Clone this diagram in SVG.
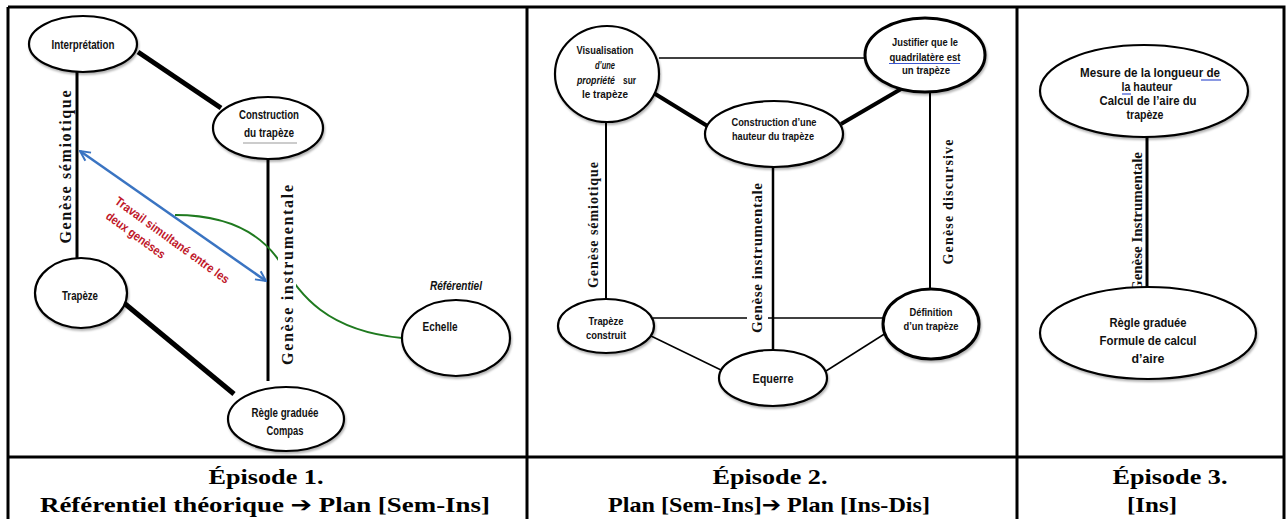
<svg xmlns="http://www.w3.org/2000/svg" width="1288" height="519" viewBox="0 0 1288 519">
<style>
.bg{fill:#fff}
.frame{stroke:#000;stroke-width:3;fill:none}
.node{fill:#fff;stroke:#000;stroke-width:2.2;filter:url(#sh)}
.node.thick{stroke-width:3}
.t{font-family:"Liberation Sans",Arial,sans-serif;font-weight:bold;fill:#111;text-anchor:middle}
.s{text-anchor:start}
.t10{font-size:10.5px}
.t11{font-size:11px}
.t12{font-size:12px}
.t13{font-size:13px}
.it{font-style:italic}
.gen{font-family:"Liberation Serif","Times New Roman",serif;font-weight:bold;fill:#111;text-anchor:middle;dominant-baseline:central}
.ln{stroke:#000;fill:none}
.w15{stroke-width:1.5}
.w2{stroke-width:2}
.w3{stroke-width:3}
.w5{stroke-width:5}
.blue{stroke:#3a74c2;stroke-width:2.5;fill:none}
.green{stroke:#1f7a1f;stroke-width:2;fill:none}
.red{font-family:"Liberation Sans",Arial,sans-serif;font-weight:bold;font-size:12.5px;fill:#c0182a}
.foot{font-family:"Liberation Serif","Times New Roman",serif;font-weight:bold;font-size:22px;fill:#000;text-anchor:middle}
.arr{font-family:"DejaVu Sans",sans-serif;font-size:21px}
.ul{stroke:#3b55d0;stroke-width:1.2}
</style>
<defs>
<filter id="sh" x="-20%" y="-20%" width="140%" height="150%">
<feDropShadow dx="1" dy="2" stdDeviation="1.3" flood-color="#000" flood-opacity="0.3"/>
</filter>
<marker id="ah" viewBox="0 0 10 10" refX="9" refY="5" markerWidth="5" markerHeight="5" orient="auto-start-reverse" markerUnits="strokeWidth">
<path d="M1,1 L9,5 L1,9" fill="none" stroke="#3a74c2" stroke-width="1.6"/>
</marker>
</defs>
<rect class="bg" x="0" y="0" width="1288" height="519"/>

<g id="frame">
<path class="frame" d="M8,7 H1284 V519 M8,7 V519 M527,7 V519 M1017,7 V519 M8,457 H1284"/>
</g>

<g id="connectors">
<line class="ln w5" x1="138" y1="52" x2="221" y2="108"/>
<line class="ln w3" x1="77" y1="72" x2="77" y2="259"/>
<line class="ln w3" x1="268" y1="158" x2="268" y2="381"/>
<line class="ln w5" x1="118" y1="298" x2="234" y2="394"/>
<line class="blue" x1="80" y1="151" x2="266" y2="281" marker-start="url(#ah)" marker-end="url(#ah)"/>
<path class="green" d="M175,215 C230,215 262,235 280,262 S320,330 402,338"/>
<line class="ln w15" x1="659" y1="58" x2="866" y2="58"/>
<line class="ln" stroke-width="4" x1="652" y1="92" x2="709" y2="127"/>
<line class="ln" stroke-width="4" x1="841" y1="124" x2="901" y2="89"/>
<line class="ln w2" x1="606" y1="122" x2="606" y2="300"/>
<line class="ln" stroke-width="2.5" x1="773" y1="167" x2="773" y2="351"/>
<line class="ln w2" x1="930" y1="92" x2="930" y2="290"/>
<line class="ln w15" x1="653" y1="318" x2="884" y2="318"/>
<line class="ln w15" x1="651" y1="336" x2="721" y2="370"/>
<line class="ln w15" x1="826" y1="371" x2="886" y2="333"/>
<line class="ln w3" x1="1147" y1="136" x2="1147" y2="288"/>
</g>

<g id="labels">
<text class="gen" font-size="16" transform="translate(65,167) rotate(-90)" textLength="153" lengthAdjust="spacing">Genèse sémiotique</text>
<rect class="bg" x="278" y="182" width="18" height="186"/>
<text class="gen" font-size="16" transform="translate(287,275) rotate(-90)" textLength="180" lengthAdjust="spacing">Genèse instrumentale</text>
<text class="red" transform="translate(114,203) rotate(36)" textLength="138" lengthAdjust="spacingAndGlyphs">Travail simultané entre les</text>
<text class="red" transform="translate(105,218) rotate(36)" textLength="70" lengthAdjust="spacingAndGlyphs">deux genèses</text>
<text class="gen" font-size="14" transform="translate(593,225) rotate(-90)" textLength="126" lengthAdjust="spacing">Genèse sémiotique</text>
<rect class="bg" x="747" y="180" width="21" height="156"/>
<text class="gen" font-size="15" transform="translate(757,258) rotate(-90)" textLength="150" lengthAdjust="spacing">Genèse instrumentale</text>
<text class="gen" font-size="14" transform="translate(948,202) rotate(-90)" textLength="125" lengthAdjust="spacing">Genèse discursive</text>
<text class="gen" font-size="15" transform="translate(1137,222) rotate(-90)" textLength="140" lengthAdjust="spacing">Genèse Instrumentale</text>
</g>

<g id="n-interpretation">
<ellipse class="node" cx="83" cy="44" rx="54" ry="28"/>
<text class="t t12" x="83" y="49" textLength="63" lengthAdjust="spacingAndGlyphs">Interprétation</text>
</g>
<g id="n-construction">
<ellipse class="node" cx="268" cy="128" rx="55" ry="31"/>
<text class="t t12" x="269" y="119" textLength="60" lengthAdjust="spacingAndGlyphs">Construction</text>
<text class="t t12" x="269" y="137" textLength="50" lengthAdjust="spacingAndGlyphs">du trapèze</text>
<line x1="243" y1="143" x2="297" y2="143" stroke="#bbb" stroke-width="1.5"/>
</g>
<g id="n-trapeze">
<ellipse class="node" cx="81" cy="293" rx="46" ry="35"/>
<text class="t t12" x="80" y="300" textLength="36" lengthAdjust="spacingAndGlyphs">Trapèze</text>
</g>
<g id="n-regle">
<ellipse class="node" cx="286" cy="419" rx="58" ry="32"/>
<text class="t t12" x="285" y="417" textLength="67" lengthAdjust="spacingAndGlyphs">Règle graduée</text>
<text class="t t12" x="285" y="435" textLength="37" lengthAdjust="spacingAndGlyphs">Compas</text>
</g>
<g id="n-echelle">
<text class="t t12 it" x="456" y="290" textLength="52" lengthAdjust="spacingAndGlyphs">Référentiel</text>
<ellipse class="node" cx="456" cy="338" rx="54" ry="38"/>
<text class="t t12" x="440" y="331" textLength="35" lengthAdjust="spacingAndGlyphs">Echelle</text>
</g>

<g id="n-visualisation">
<ellipse class="node" cx="607" cy="74" rx="52" ry="48"/>
<text class="t t10" x="605" y="54" textLength="57" lengthAdjust="spacingAndGlyphs">Visualisation</text>
<text class="t t10 it" x="605" y="68.5" textLength="20" lengthAdjust="spacingAndGlyphs">d’une</text>
<text class="t t10 it s" x="577" y="83.5" textLength="38" lengthAdjust="spacingAndGlyphs">propriété</text>
<text class="t t10 s" x="623" y="83.5" textLength="13" lengthAdjust="spacingAndGlyphs">sur</text>
<text class="t t10" x="605" y="98" textLength="46" lengthAdjust="spacingAndGlyphs">le trapèze</text>
</g>
<g id="n-justifier">
<ellipse class="node thick" cx="925" cy="55" rx="60" ry="37"/>
<text class="t t11" x="925" y="46" textLength="66" lengthAdjust="spacingAndGlyphs">Justifier que le</text>
<text class="t t11" x="925" y="61" textLength="71" lengthAdjust="spacingAndGlyphs">quadrilatère  est</text>
<line class="ul" x1="889" y1="63.5" x2="960" y2="63.5"/>
<text class="t t11" x="926" y="74" textLength="48" lengthAdjust="spacingAndGlyphs">un trapèze</text>
</g>
<g id="n-hauteur">
<ellipse class="node" cx="774" cy="134" rx="69" ry="33"/>
<text class="t t11" x="774" y="126" textLength="85" lengthAdjust="spacingAndGlyphs">Construction d’une</text>
<text class="t t11" x="773" y="140" textLength="82" lengthAdjust="spacingAndGlyphs">hauteur du trapèze</text>
</g>
<g id="n-trapeze-construit">
<ellipse class="node" cx="606" cy="326" rx="48" ry="27"/>
<text class="t t11" x="606" y="325" textLength="35" lengthAdjust="spacingAndGlyphs">Trapèze</text>
<text class="t t11" x="606" y="339" textLength="40" lengthAdjust="spacingAndGlyphs">construit</text>
</g>
<g id="n-definition">
<ellipse class="node thick" cx="931" cy="324" rx="48" ry="35"/>
<text class="t t11" x="931" y="316" textLength="43" lengthAdjust="spacingAndGlyphs">Définition</text>
<text class="t t11" x="931" y="330" textLength="55" lengthAdjust="spacingAndGlyphs">d’un trapèze</text>
</g>
<g id="n-equerre">
<ellipse class="node" cx="773" cy="378" rx="54" ry="28"/>
<text class="t t13" x="773" y="383" textLength="41" lengthAdjust="spacingAndGlyphs">Equerre</text>
</g>

<g id="n-mesure">
<ellipse class="node" cx="1144" cy="91" rx="104" ry="46"/>
<text class="t t12" x="1150" y="77" textLength="140" lengthAdjust="spacingAndGlyphs">Mesure de la longueur de</text>
<line class="ul" x1="1201" y1="80" x2="1221" y2="80"/>
<text class="t t12" x="1147" y="91" textLength="51" lengthAdjust="spacingAndGlyphs">la hauteur</text>
<line class="ul" x1="1122" y1="94" x2="1131" y2="94"/>
<text class="t t12" x="1148" y="105" textLength="97" lengthAdjust="spacingAndGlyphs">Calcul de l’aire du</text>
<text class="t t12" x="1145" y="119" textLength="37" lengthAdjust="spacingAndGlyphs">trapèze</text>
</g>
<g id="n-formule">
<ellipse class="node" cx="1148" cy="333" rx="108" ry="46"/>
<text class="t t12" x="1148" y="327" textLength="77" lengthAdjust="spacingAndGlyphs">Règle graduée</text>
<text class="t t12" x="1148" y="345" textLength="97" lengthAdjust="spacingAndGlyphs">Formule de calcul</text>
<text class="t t12" x="1148" y="363" textLength="33" lengthAdjust="spacingAndGlyphs">d’aire</text>
</g>

<g id="footer">
<text class="foot" x="266" y="484" textLength="115" lengthAdjust="spacingAndGlyphs">Épisode 1.</text>
<text class="foot" x="265" y="512" textLength="450" lengthAdjust="spacingAndGlyphs">Référentiel théorique <tspan class="arr">➔</tspan> Plan [Sem-Ins]</text>
<text class="foot" x="770" y="484" textLength="115" lengthAdjust="spacingAndGlyphs">Épisode 2.</text>
<text class="foot" x="769" y="512" textLength="322" lengthAdjust="spacingAndGlyphs">Plan [Sem-Ins]<tspan class="arr">➔</tspan> Plan [Ins-Dis]</text>
<text class="foot" x="1170" y="484" textLength="115" lengthAdjust="spacingAndGlyphs">Épisode 3.</text>
<text class="foot" x="1152" y="512" textLength="50" lengthAdjust="spacingAndGlyphs">[Ins]</text>
</g>
</svg>
